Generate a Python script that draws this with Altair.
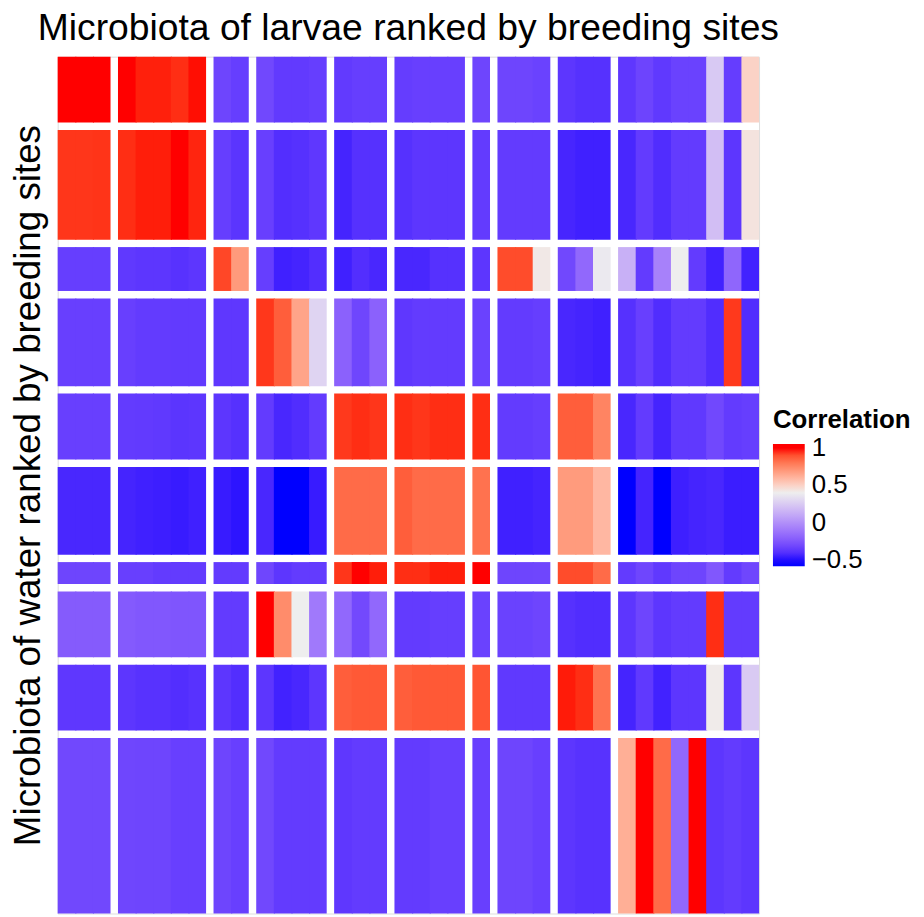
import altair as alt
import pandas as pd

# number of samples per breeding site (larvae columns / water rows, same ordering)
group_sizes = [3, 5, 2, 4, 3, 4, 1, 3, 3, 8]

# correlation values: one list per water row-group, 36 larvae columns each
r1 = [1.0, 1.0, 1.0,
      1.0, 0.98, 0.98, 0.964, 0.994,
      -0.316, -0.345,
      -0.305, -0.36, -0.36, -0.345,
      -0.36, -0.345, -0.345,
      -0.35, -0.34, -0.34, -0.34,
      -0.316,
      -0.316, -0.316, -0.33,
      -0.375, -0.395, -0.395,
      -0.37, -0.32, -0.365, -0.33, -0.33, 0.244, -0.35, 0.50]
r2 = [0.952, 0.952, 0.955,
      0.964, 0.982, 0.982, 1.0, 0.975,
      -0.345, -0.38,
      -0.339, -0.405, -0.395, -0.37,
      -0.44, -0.395, -0.395,
      -0.395, -0.375, -0.375, -0.375,
      -0.355,
      -0.355, -0.355, -0.355,
      -0.435, -0.45, -0.45,
      -0.43, -0.355, -0.41, -0.355, -0.355, 0.20, -0.375, 0.44]
r3 = [-0.345, -0.345, -0.345,
      -0.365, -0.375, -0.375, -0.39, -0.375,
      0.92, 0.69,
      -0.345, -0.45, -0.44, -0.405,
      -0.45, -0.405, -0.43,
      -0.43, -0.43, -0.395, -0.395,
      -0.375,
      0.91, 0.91, 0.42,
      -0.305, -0.17, 0.38,
      0.14, -0.355, -0.06, 0.40, -0.355, -0.445, -0.18, -0.445]
r4 = [-0.339, -0.339, -0.339,
      -0.339, -0.355, -0.355, -0.36, -0.36,
      -0.37, -0.37,
      0.95, 0.868, 0.658, 0.29,
      -0.198, -0.313, -0.198,
      -0.37, -0.355, -0.355, -0.355,
      -0.33,
      -0.355, -0.355, -0.345,
      -0.43, -0.44, -0.45,
      -0.395, -0.339, -0.41, -0.355, -0.355, -0.41, 0.946, -0.41]
r5 = [-0.339, -0.339, -0.339,
      -0.355, -0.36, -0.365, -0.38, -0.375,
      -0.375, -0.395,
      -0.355, -0.43, -0.41, -0.355,
      0.946, 0.964, 0.952,
      0.964, 0.952, 0.964, 0.964,
      0.964,
      -0.355, -0.355, -0.345,
      0.868, 0.868, 0.76,
      -0.43, -0.355, -0.44, -0.365, -0.365, -0.305, -0.355, -0.345]
r6 = [-0.43, -0.43, -0.43,
      -0.44, -0.45, -0.457, -0.465, -0.45,
      -0.465, -0.483,
      -0.43, -0.52, -0.52, -0.465,
      0.832, 0.832, 0.832,
      0.868, 0.832, 0.832, 0.832,
      0.814,
      -0.45, -0.45, -0.44,
      0.688, 0.688, 0.592,
      -0.52, -0.44, -0.52, -0.455, -0.44, -0.43, -0.46, -0.46]
r7 = [-0.316, -0.316, -0.316,
      -0.339, -0.339, -0.355, -0.355, -0.355,
      -0.355, -0.355,
      -0.313, -0.375, -0.355, -0.355,
      0.952, 1.0, 0.982,
      0.964, 0.964, 0.982, 0.982,
      1.0,
      -0.316, -0.316, -0.313,
      0.91, 0.91, 0.832,
      -0.355, -0.313, -0.365, -0.316, -0.316, -0.244, -0.355, -0.313]
r8 = [-0.226, -0.226, -0.226,
      -0.23, -0.244, -0.244, -0.25, -0.25,
      -0.355, -0.355,
      1.0, 0.736, 0.40, -0.097,
      -0.17, -0.30, -0.17,
      -0.355, -0.355, -0.345, -0.345,
      -0.33,
      -0.33, -0.33, -0.316,
      -0.395, -0.41, -0.41,
      -0.375, -0.316, -0.375, -0.355, -0.355, 0.964, -0.355, -0.355]
r9 = [-0.37, -0.37, -0.37,
      -0.375, -0.39, -0.39, -0.405, -0.39,
      -0.375, -0.405,
      -0.375, -0.445, -0.43, -0.375,
      0.868, 0.88, 0.88,
      0.868, 0.88, 0.88, 0.88,
      0.89,
      -0.365, -0.365, -0.365,
      0.985, 0.964, 0.814,
      -0.44, -0.365, -0.445, -0.375, -0.375, 0.41, -0.375, 0.25]
r10 = [-0.305, -0.305, -0.305,
       -0.313, -0.316, -0.316, -0.339, -0.339,
       -0.316, -0.339,
       -0.305, -0.355, -0.355, -0.355,
       -0.37, -0.355, -0.355,
       -0.355, -0.355, -0.339, -0.339,
       -0.339,
       -0.316, -0.316, -0.339,
       -0.375, -0.39, -0.39,
       0.622, 1.0, 0.832, -0.17, 1.0, -0.375, -0.355, -0.375]
row_values = [r1, r2, r3, r4, r5, r6, r7, r8, r9, r10]

legend_values = [-0.5, 0, 0.5, 1]

FONT = "Liberation Sans"
W, H = 706, 862.5
GAP_PX = 7.5
OVERLAP = 0.06  # tiny overlap between adjacent tiles of a block to hide anti-alias seams

n = sum(group_sizes)
ng = len(group_sizes)
cell_w = (W - (ng - 1) * GAP_PX) / n
cell_h = (H - (ng - 1) * GAP_PX) / n
gx = GAP_PX / cell_w
gy = GAP_PX / cell_h
tot_x = n + (ng - 1) * gx
tot_y = n + (ng - 1) * gy

# column starts (in cell units, including group gaps)
col_start = []
col_last = []
pos = 0
for g, s in enumerate(group_sizes):
    for k in range(s):
        col_start.append(pos + g * gx)
        col_last.append(k == s - 1)
        pos += 1

recs = []
rpos = 0
for i, s in enumerate(group_sizes):
    y0 = rpos + i * gy
    y1 = y0 + s
    for j, v in enumerate(row_values[i]):
        x1 = col_start[j] + 1 + (0 if col_last[j] else OVERLAP)
        recs.append({"x0": col_start[j], "x1": x1, "y0": y0, "y1": y1, "v": v})
    rpos += s
df = pd.DataFrame(recs)

# blue -> light grey -> red (Lab), with flat half-bin ends like a ggplot colourbar
color_scale = alt.Scale(domain=[-0.58, -0.52, 0.40, 1.0, 1.05],
                        range=["#0000ff", "#0000ff", "#eeeeee", "#ff0000", "#ff0000"],
                        interpolate="lab")

chart = alt.Chart(df).mark_rect().encode(
    x=alt.X("x0:Q", scale=alt.Scale(domain=[0, tot_x], nice=False, zero=False), axis=None),
    x2="x1:Q",
    y=alt.Y("y0:Q", scale=alt.Scale(domain=[0, tot_y], nice=False, zero=False, reverse=True),
            axis=alt.Axis(title="Microbiota of water ranked by breeding sites",
                          labels=False, ticks=False, domain=False, grid=False,
                          titleFont=FONT, titleFontSize=37, titleFontWeight="normal",
                          titleColor="black", titlePadding=18,
                          titleBaseline="alphabetic")),
    y2="y1:Q",
    color=alt.Color("v:Q", scale=color_scale,
                    legend=alt.Legend(title="Correlation", orient="none",
                                      legendX=720, legendY=353, direction="vertical",
                                      gradientLength=123, gradientThickness=32,
                                      values=legend_values, format=".1~f",
                                      titleFont=FONT, titleFontSize=26, titleFontWeight="bold",
                                      titleColor="black", labelFont=FONT, labelFontSize=26,
                                      labelColor="black", labelOffset=7, titlePadding=11,
                                      padding=0, gradientStrokeWidth=0, labelOverlap=False)),
).properties(
    width=W, height=H,
    title=alt.Title("Microbiota of larvae ranked by breeding sites", font=FONT,
                    fontSize=37.5, fontWeight="normal", color="black", anchor="middle",
                    baseline="alphabetic", offset=-21),
    autosize=alt.AutoSizeParams(type="none"),
    padding={"left": 50, "top": 46, "right": 158, "bottom": 0},
).configure_view(strokeWidth=0).configure(background="white")

chart.save("out.html", embed_options={"renderer": "svg", "actions": False})
